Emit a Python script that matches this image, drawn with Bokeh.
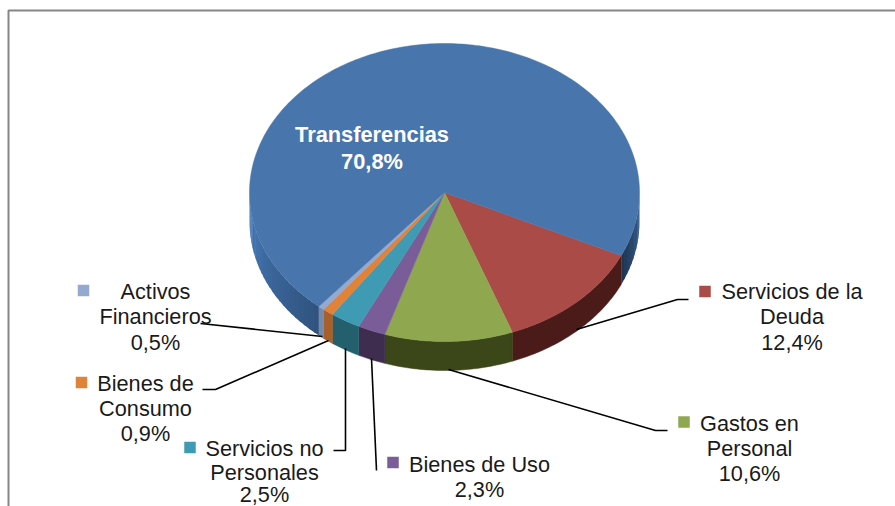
import numpy as np
from bokeh.plotting import figure
from bokeh.core.properties import value
from bokeh.embed import file_html
from bokeh.resources import INLINE

# ---- data (clockwise from the Deuda / Transferencias boundary)
categories = ["Servicios de la Deuda", "Gastos en Personal", "Bienes de Uso",
              "Servicios no Personales", "Bienes de Consumo", "Activos Financieros",
              "Transferencias"]
shares = [12.4, 10.6, 2.3, 2.5, 0.9, 0.5, 70.8]
top_colors = ["#AB4B47", "#8FA850", "#7A5C99", "#3F9AB3", "#E08238", "#93A9D0", "#4876AC"]
side_colors = ["#4A1B18", "#3B4619", "#3F2D50", "#245F6E", "#A8602A", "#7489AC", "#345A88"]

labels = [
    (["Activos", "Financieros", "0,5%"], 155, [291, 316, 342], "#93A9D0", 83, 290),
    (["Bienes de", "Consumo", "0,9%"], 145, [383, 408, 433], "#E08238", 81, 382),
    (["Servicios no", "Personales", "2,5%"], 264, [448, 472, 494], "#3F9AB3", 189.5, 447),
    (["Bienes de Uso", "2,3%"], 479, [464, 489], "#7A5C99", 392.5, 462),
    (["Servicios de la", "Deuda", "12,4%"], 791.5, [291, 316, 342], "#AB4B47", 704.5, 291),
    (["Gastos en", "Personal", "10,6%"], 749, [423, 448, 473], "#8FA850", 683.5, 421.5),
]
leaders = [
    ([200, 322], [323, 336]),
    ([202, 215, 328], [389, 389, 340]),
    ([333, 345, 345], [450, 450, 348]),
    ([376, 371], [470, 358]),
    ([688, 677, 576], [299, 299, 329]),
    ([667, 655, 448], [430, 430, 369]),
]

W, H = 895, 506
CX, CY, RX, RY, DEPTH, START = 444, 192, 195, 149, 29, -25.0

p = figure(width=W, height=H, x_range=(0, W), y_range=(H, 0),
           output_backend="svg", toolbar_location=None, min_border=0,
           outline_line_color=None, background_fill_color="white",
           border_fill_color="white")
p.axis.visible = False
p.grid.visible = False


def ex(t):
    return CX + RX * np.cos(np.radians(t))


def ey(t):
    return CY - RY * np.sin(np.radians(t))


def mix(c, f):
    r, g, b = (int(c[i:i + 2], 16) for i in (1, 3, 5))
    return "#%02x%02x%02x" % tuple(int(min(255, v * f)) for v in (r, g, b))


def wall(lo, hi, c, lw=0.5):
    arc = np.linspace(lo, hi, max(3, int(hi - lo) + 2))
    xs = list(ex(arc)) + list(ex(arc[::-1]))
    ys = list(ey(arc)) + list(ey(arc[::-1]) + DEPTH)
    p.patch(xs, ys, fill_color=c, line_color=c, line_width=lw)


angles = START - np.cumsum([0] + [s * 3.6 for s in shares])

# side wall: only the front half is visible
for a0, a1, col in zip(angles[:-1], angles[1:], side_colors):
    if col != side_colors[-1]:
        wall(a1, a0, col)
# the large slice is shaded around its two visible stretches
last = side_colors[-1]
for lo, hi, f0, f1 in [(-180.0, angles[-2], 1.38, 0.92), (START, 0.0, 0.62, 1.17)]:
    steps = np.arange(lo, hi, 2.0)
    for s in steps:
        f = f0 + (f1 - f0) * (s - lo) / (hi - lo)
        wall(s, min(s + 2.6, hi), mix(last, f), lw=0)

# top face
xs, ys = [], []
for a0, a1 in zip(angles[:-1], angles[1:]):
    arc = np.linspace(a0, a1, max(3, int(abs(a0 - a1))))
    xs.append([CX] + list(ex(arc)))
    ys.append([CY] + list(ey(arc)))
p.patches(xs, ys, fill_color=top_colors, line_color=top_colors, line_width=0.5)

# chart frame (runs off the page at right and bottom)
p.line([8, 8, W], [H, 10, 10], line_color="#868686", line_width=2)

# leader lines
p.multi_line([l[0] for l in leaders], [l[1] for l in leaders],
             line_color="black", line_width=1.6)

# outside labels
for lines, x, ypos, col, mx, my in labels:
    p.text([x] * len(lines), ypos, text=lines, text_align="center", text_baseline="middle",
           text_font=value("Liberation Sans"), text_font_size="21.7px", text_color="#1a1a1a")
    p.scatter([mx], [my], marker="square", size=11.5, fill_color=col, line_color=None)

# inside label
p.text([371.5, 371.5], [134, 161], text=["Transferencias", "70,8%"], text_align="center",
       text_baseline="middle", text_font=value("Liberation Sans"),
       text_font_size="21.8px", text_font_style="bold", text_color="white")

open("out.html", "w").write(file_html(p, INLINE))
